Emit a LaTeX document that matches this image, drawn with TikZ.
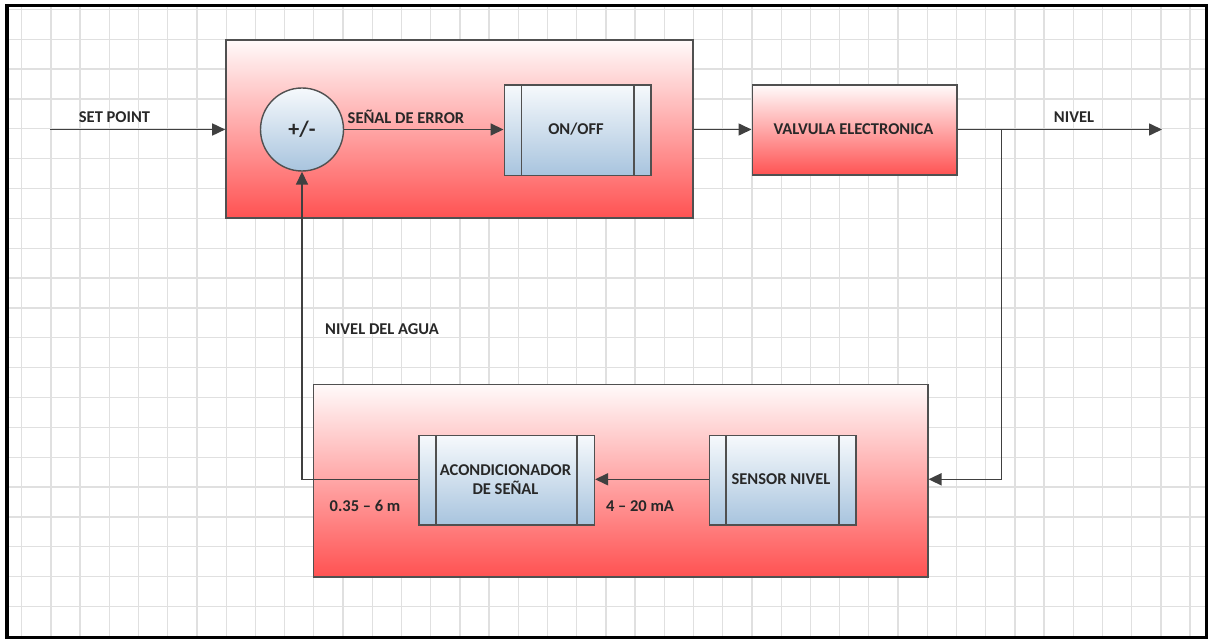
\documentclass[tikz,border=0pt]{standalone}
\usepackage{fontspec}
\setmainfont{Carlito}
\usetikzlibrary{arrows.meta}
\definecolor{gridc}{RGB}{224,224,224}
\definecolor{linec}{RGB}{64,64,64}
\definecolor{boxc}{RGB}{80,80,80}
\definecolor{redb}{RGB}{255,82,82}
\definecolor{redt}{RGB}{255,250,250}
\definecolor{blut}{RGB}{246,249,252}
\definecolor{blub}{RGB}{168,196,222}
\definecolor{txt}{RGB}{40,40,40}
\tikzset{
  lbl/.style={text=txt, font=\fontsize{16.5}{19.5}\selectfont\bfseries, inner sep=0pt, align=center},
  redbox/.style={draw=boxc, line width=1.6pt, top color=redt, bottom color=redb, inner sep=0pt},
  procbox/.style={draw=boxc, line width=1.6pt, top color=blut, bottom color=blub, inner sep=0pt, lbl},
  sumnode/.style={circle, draw=boxc, line width=1.4pt, top color=blut, bottom color=blub, inner sep=0pt, minimum size=83pt, text=txt, font=\fontsize{22}{24}\selectfont\bfseries},
  bar/.style={draw=boxc, line width=1.6pt},
  conn/.style={draw=linec, line width=1.6pt},
  arr/.style={conn, -{Triangle[length=13pt,width=12pt]}},
  gridline/.style={draw=gridc, line width=1.3pt},
  frame/.style={draw=black, line width=3.5pt}
}
\begin{document}
\begin{tikzpicture}[x=1pt,y=-1pt]
\useasboundingbox (0,0) rectangle (1208,639);
\fill[white] (0,0) rectangle (1208,639);
% grid
\foreach \k in {0,...,40} {\draw[gridline] ({21.7+29.21*\k},6) -- ({21.7+29.21*\k},637);}
\foreach \k in {0,...,20} {\draw[gridline] (7,{9.45+29.85*\k}) -- (1206,{9.45+29.85*\k});}
\draw[frame] (7,5.3) rectangle (1206.5,637.5);

% top group
\node[redbox, minimum width=467pt, minimum height=178pt] (top) at (459.5,129) {};
\node[sumnode] (sum) at (302,129.5) {+/-};
\node[procbox, minimum width=146.7pt, minimum height=90.7pt] (onoff) at (577.7,130.3) {};
\draw[bar] ([xshift=18pt]onoff.north west) -- ([xshift=18pt]onoff.south west);
\draw[bar] ([xshift=-18pt]onoff.north east) -- ([xshift=-18pt]onoff.south east);
\node[lbl] (onofft) at (576,129.5) {ON/OFF};

\node[redbox, minimum width=204.4pt, minimum height=90pt] (valv) at (854.5,130.3) {};
\node[lbl] (valvt) at (853.5,129.5) {VALVULA ELECTRONICA};

% bottom group
\node[redbox, minimum width=614.4pt, minimum height=192.4pt] (bot) at (620.5,480.5) {};
\node[procbox, minimum width=175.6pt, minimum height=89.3pt] (acond) at (506.5,480.3) {};
\draw[bar] ([xshift=18pt]acond.north west) -- ([xshift=18pt]acond.south west);
\draw[bar] ([xshift=-18pt]acond.north east) -- ([xshift=-18pt]acond.south east);
\node[lbl] (acondt) at (505.5,479.5) {ACONDICIONADOR\\DE SEÑAL};

\node[procbox, minimum width=146.4pt, minimum height=89.3pt] (sensor) at (782.5,480.3) {};
\draw[bar] ([xshift=17.4pt]sensor.north west) -- ([xshift=17.4pt]sensor.south west);
\draw[bar] ([xshift=-17.4pt]sensor.north east) -- ([xshift=-17.4pt]sensor.south east);
\node[lbl] (sensort) at (781,479.3) {SENSOR NIVEL};

% coordinates
\coordinate (sp) at (50,129.5);
\coordinate (out) at (1162,129.5);
\coordinate (br) at (1001.5,129.5);
\coordinate (brd) at (1001.5,479.3);
\coordinate (fb) at (302,479.3);

% connectors
\draw[arr] (sp) -- (sp -| top.west);
\draw[arr] (sum.east |- 0,129.5) -- (onoff.west |- 0,129.5);
\draw[arr] (top.east |- 0,129.5) -- (valv.west |- 0,129.5);
\draw[arr] (valv.east |- 0,129.5) -- (out);
\draw[arr] (br) -- (brd) -- (brd -| bot.east);
\draw[arr] (sensor.west |- 0,479.3) -- (acond.east |- 0,479.3);
\draw[arr] (acond.west |- 0,479.3) -- (fb) -- (sum.south);

% labels
\node[lbl] (l1) at (114.5,117) {SET POINT};
\node[lbl] (l2) at (406,116.7) {SEÑAL DE ERROR};
\node[lbl] (l3) at (1074,116.7) {NIVEL};
\node[lbl] (l4) at (382,329) {NIVEL DEL AGUA};
\node[lbl] (l5) at (365,505.7) {0.35 – 6 m};
\node[lbl] (l6) at (640,505.7) {4 – 20 mA};
\end{tikzpicture}
\end{document}
